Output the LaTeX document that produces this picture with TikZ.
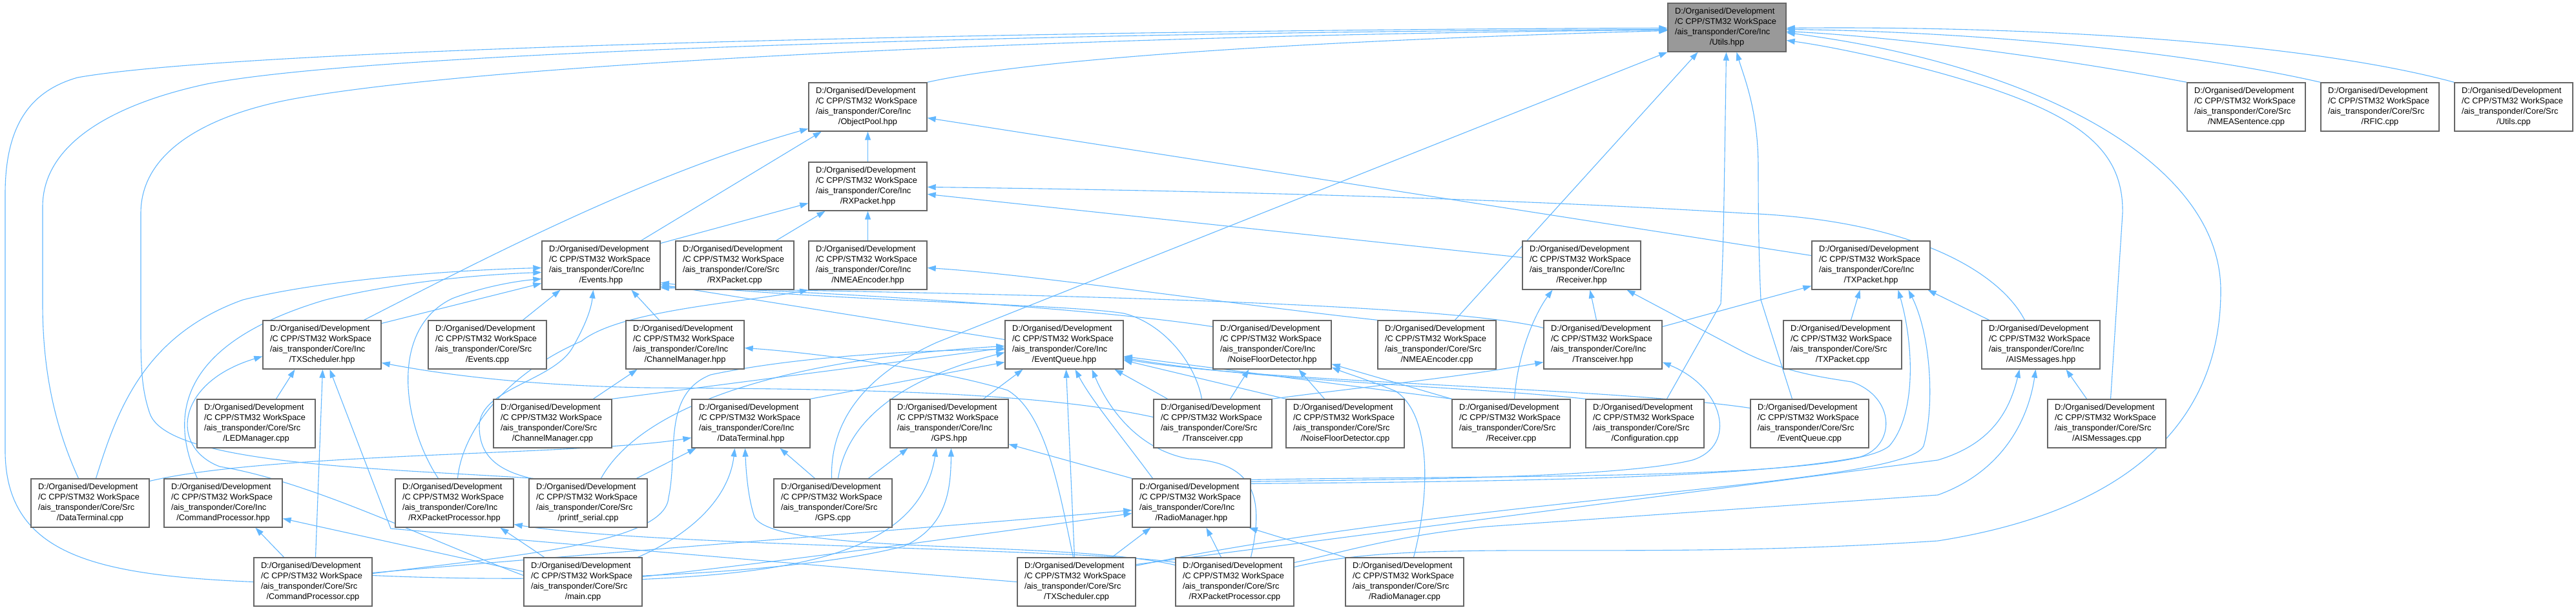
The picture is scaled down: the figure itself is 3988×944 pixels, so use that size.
\documentclass[tikz,border=0pt]{standalone}
\usepackage{fontspec}
\setmainfont{Liberation Sans}
\usetikzlibrary{arrows.meta}
\definecolor{edgec}{HTML}{63B8FF}
\definecolor{bordc}{HTML}{666666}
\definecolor{rootc}{HTML}{999999}
\newcommand\nlbl{\fontsize{12.8pt}{15.9pt}\selectfont}
\newcommand\ntx[2]{\makebox[161pt][l]{D:/Organised/Development}\\\makebox[161pt][l]{/C CPP/STM32 WorkSpace}\\\makebox[161pt][l]{/ais\_transponder/Core/#1}\\#2}
\pgfdeclarelayer{bg}
\pgfsetlayers{bg,main}
\tikzset{
  nd/.style={draw=bordc, fill=white, line width=1.4pt, minimum width=183pt, minimum height=75pt, inner sep=0pt, align=center, font=\nlbl},
  rootnd/.style={nd, fill=rootc},
  e/.style={draw=edgec, line width=1.1pt, -{Triangle[length=13pt,width=9pt]}}
}
\begin{document}
\begin{tikzpicture}[x=1pt,y=-1pt]
\useasboundingbox (0,0) rectangle (3988,944);
% row 0
\node[rootnd] (utilsh) at (2673.5,42.5) {\ntx{Inc}{/Utils.hpp}};
% row 1
\node[nd] (objpool) at (1343.5,165.5) {\ntx{Inc}{/ObjectPool.hpp}};
\node[nd] (nmeasent) at (3477.5,165.5) {\ntx{Src}{/NMEASentence.cpp}};
\node[nd] (rfic) at (3684.5,165.5) {\ntx{Src}{/RFIC.cpp}};
\node[nd] (utilscpp) at (3891.5,165.5) {\ntx{Src}{/Utils.cpp}};
% row 2
\node[nd] (rxpkth) at (1343.5,288.5) {\ntx{Inc}{/RXPacket.hpp}};
% row 3
\node[nd] (eventsh) at (930.5,410.5) {\ntx{Inc}{/Events.hpp}};
\node[nd] (rxpktcpp) at (1137.5,410.5) {\ntx{Src}{/RXPacket.cpp}};
\node[nd] (nmeaench) at (1343.5,410.5) {\ntx{Inc}{/NMEAEncoder.hpp}};
\node[nd] (receiverh) at (2448.5,410.5) {\ntx{Inc}{/Receiver.hpp}};
\node[nd] (txpkth) at (2896.5,410.5) {\ntx{Inc}{/TXPacket.hpp}};
% row 4
\node[nd] (txschedh) at (498.5,533.5) {\ntx{Inc}{/TXScheduler.hpp}};
\node[nd] (eventscpp) at (754.5,533.5) {\ntx{Src}{/Events.cpp}};
\node[nd] (chanmgrh) at (1060.5,533.5) {\ntx{Inc}{/ChannelManager.hpp}};
\node[nd] (evqh) at (1647.5,533.5) {\ntx{Inc}{/EventQueue.hpp}};
\node[nd] (nfdh) at (1969.5,533.5) {\ntx{Inc}{/NoiseFloorDetector.hpp}};
\node[nd] (nmeaenccpp) at (2224.5,533.5) {\ntx{Src}{/NMEAEncoder.cpp}};
\node[nd] (transch) at (2481.5,533.5) {\ntx{Inc}{/Transceiver.hpp}};
\node[nd] (txpktcpp) at (2852.5,533.5) {\ntx{Src}{/TXPacket.cpp}};
\node[nd] (aismsgh) at (3159.5,533.5) {\ntx{Inc}{/AISMessages.hpp}};
% row 5
\node[nd] (ledmgrcpp) at (396.5,655.5) {\ntx{Src}{/LEDManager.cpp}};
\node[nd] (chanmgrcpp) at (855.5,655.5) {\ntx{Src}{/ChannelManager.cpp}};
\node[nd] (dtermh) at (1162.5,655.5) {\ntx{Inc}{/DataTerminal.hpp}};
\node[nd] (gpsh) at (1469.5,655.5) {\ntx{Inc}{/GPS.hpp}};
\node[nd] (transcpp) at (1877.5,655.5) {\ntx{Src}{/Transceiver.cpp}};
\node[nd] (nfdcpp) at (2082.5,655.5) {\ntx{Src}{/NoiseFloorDetector.cpp}};
\node[nd] (receivercpp) at (2339.5,655.5) {\ntx{Src}{/Receiver.cpp}};
\node[nd] (configcpp) at (2546.5,655.5) {\ntx{Src}{/Configuration.cpp}};
\node[nd] (evqcpp) at (2801.5,655.5) {\ntx{Src}{/EventQueue.cpp}};
\node[nd] (aismsgcpp) at (3261.5,655.5) {\ntx{Src}{/AISMessages.cpp}};
% row 6
\node[nd] (dtermcpp) at (139.5,778.5) {\ntx{Src}{/DataTerminal.cpp}};
\node[nd] (cmdproch) at (345.5,778.5) {\ntx{Inc}{/CommandProcessor.hpp}};
\node[nd] (rxpph) at (703.5,778.5) {\ntx{Inc}{/RXPacketProcessor.hpp}};
\node[nd] (printfcpp) at (910.5,778.5) {\ntx{Src}{/printf\_serial.cpp}};
\node[nd] (gpscpp) at (1289.5,778.5) {\ntx{Src}{/GPS.cpp}};
\node[nd] (radiomgrh) at (1844.5,778.5) {\ntx{Inc}{/RadioManager.hpp}};
% row 7
\node[nd] (cmdproccpp) at (484.5,900.5) {\ntx{Src}{/CommandProcessor.cpp}};
\node[nd] (maincpp) at (902.5,900.5) {\ntx{Src}{/main.cpp}};
\node[nd] (txschedcpp) at (1666.5,900.5) {\ntx{Src}{/TXScheduler.cpp}};
\node[nd] (rxppcpp) at (1911.5,900.5) {\ntx{Src}{/RXPacketProcessor.cpp}};
\node[nd] (radiomgrcpp) at (2174.5,900.5) {\ntx{Src}{/RadioManager.cpp}};

\begin{pgfonlayer}{bg}
\fill[white] (0,0) rectangle (3988,944);
% ---- into Utils.hpp
\draw[e] (objpool.north east) .. controls (1600,90) and (2050,62) .. ([yshift=-5pt]utilsh.west);
\draw[e] (cmdproccpp.west) .. controls (150,890) and (10,860) .. (8,700) -- (8,300) .. controls (8,190) and (50,140) .. (120,120) .. controls (400,70) and (1800,45) .. ([yshift=-1pt]utilsh.west);
\draw[e] ([xshift=-18pt]dtermcpp.north) .. controls (80,650) and (66,560) .. (66,470) -- (66,320) .. controls (66,220) and (180,160) .. (320,130) .. controls (600,75) and (1800,48) .. ([yshift=-3pt]utilsh.west);
\draw[e] ([xshift=-85pt]printfcpp.north) .. controls (600,725) and (260,720) .. (232,640) .. controls (218,600) and (218,560) .. (218,500) -- (218,330) .. controls (218,230) and (330,175) .. (460,152) .. controls (800,92) and (1800,52) .. ([yshift=-4pt]utilsh.west);
\draw[e] ([xshift=-2pt]gpscpp.north) .. controls (1285,650) and (1340,580) .. (1450,530) -- (utilsh.south west);
\draw[e] ([xshift=28pt]nmeaenccpp.north) -- ([xshift=-45pt]utilsh.south);
\draw[e] ([xshift=34pt]configcpp.north) -- (2664,470) .. controls (2668,380) .. ([xshift=-1pt]utilsh.south);
\draw[e] ([xshift=-27pt]evqcpp.north) -- (2726,464) .. controls (2722,380) and (2722,300) .. (2722,260) .. controls (2722,170) and (2700,120) .. ([xshift=15pt]utilsh.south);
\draw[e] (nmeasent.north west) .. controls (3200,92) and (2950,58) .. ([yshift=-6pt]utilsh.east);
\draw[e] (rfic.north west) .. controls (3350,72) and (3000,48) .. ([yshift=-3pt]utilsh.east);
\draw[e] (utilscpp.north west) .. controls (3550,60) and (3100,40) .. ([yshift=-1pt]utilsh.east);
\draw[e] ([xshift=6pt]aismsgcpp.north) -- (3286,330) .. controls (3288,225) and (3210,170) .. (3000,112) .. controls (2900,85) and (2820,70) .. ([yshift=-20pt]utilsh.east);
\draw[e] ([yshift=23pt]rxppcpp.east) .. controls (2200,830) and (2500,870) .. (3000,837) .. controls (3300,790) and (3438,650) .. (3438,450) .. controls (3438,250) and (3150,100) .. ([yshift=-8pt]utilsh.east);
% ---- into ObjectPool.hpp
\draw[e] ([xshift=65pt]txschedh.north) .. controls (750,400) and (1000,270) .. (objpool.200);
\draw[e] ([xshift=62pt]eventsh.north) -- (objpool.208);
\draw[e] (rxpkth) -- (objpool);
\draw[e] ([yshift=15pt]txpkth.west) -- ([yshift=-17pt]objpool.east);
% ---- into RXPacket.hpp
\draw[e] ([yshift=34pt]eventsh.east) -- ([yshift=-26pt]rxpkth.west);
\draw[e] ([xshift=64pt]rxpktcpp.north) -- ([xshift=-66pt]rxpkth.south);
\draw[e] (nmeaench) -- (rxpkth);
\draw[e] ([xshift=-25pt]aismsgh.north) .. controls (3095,420) and (2960,340) .. (2700,330) .. controls (2300,305) and (1800,294) .. ([yshift=-1pt]rxpkth.east);
\draw[e] ([yshift=12pt]receiverh.west) -- ([yshift=-12pt]rxpkth.east);
% ---- into Events.hpp
\draw[e] ([xshift=9pt]dtermcpp.north) .. controls (180,640) and (220,520) .. (376,464) .. controls (500,433) and (700,418) .. ([yshift=-4pt]eventsh.west);
\draw[e] ([xshift=-40pt]cmdproch.north) .. controls (260,640) and (280,530) .. (504,464) .. controls (620,436) and (740,425) .. ([yshift=-11pt]eventsh.west);
\draw[e] ([xshift=-25pt]rxpph.north) .. controls (625,660) and (600,510) .. (700,462) .. controls (750,443) and (800,435) .. ([yshift=-21pt]eventsh.west);
\draw[e] ([yshift=33pt]txschedh.east) -- ([yshift=-28pt]eventsh.west);
\draw[e] ([xshift=55pt]eventscpp.north) -- ([xshift=-63pt]eventsh.south);
\draw[e] ([xshift=-88pt]printfcpp.north) .. controls (770,728) and (742,705) .. (742,660) .. controls (742,600) and (860,590) .. (888,535) .. controls (905,505) and (915,480) .. ([xshift=-12pt]eventsh.south);
\draw[e] ([xshift=-40pt]chanmgrh.north) -- ([xshift=47pt]eventsh.south);
\draw[e] ([yshift=8pt]evqh.west) -- ([yshift=-30pt]eventsh.east);
\draw[e] ([yshift=28pt]nfdh.west) .. controls (1700,478) and (1300,452) .. ([yshift=-33pt]eventsh.east);
\draw[e] ([yshift=26pt]transch.west) .. controls (2250,470) and (1600,455) .. ([yshift=-35pt]eventsh.east);
\draw[e] ([xshift=-17pt]transcpp.north) .. controls (1850,560) and (1800,500) .. (1740,485) .. controls (1650,470) and (1250,465) .. ([yshift=-27pt]eventsh.east);
% ---- into NMEAEncoder.hpp
\draw[e] (nmeaenccpp.north west) .. controls (1900,470) and (1600,425) .. ([yshift=-4pt]nmeaench.east);
\draw[e] ([xshift=5pt]rxpph.north) .. controls (715,670) and (780,580) .. (900,528) .. controls (960,480) and (1150,468) .. (nmeaench.south west);
% ---- into ChannelManager.hpp
\draw[e] ([xshift=63pt]chanmgrcpp.north) -- ([xshift=-74pt]chanmgrh.south);
\draw[e] ([xshift=-5pt]txschedcpp.north) .. controls (1640,760) and (1620,640) .. (1560,604) .. controls (1450,570) and (1250,545) .. ([yshift=-5pt]chanmgrh.east);
% ---- into EventQueue.hpp
\draw[e] (dtermh.north east) -- ([yshift=-27pt]evqh.west);
\draw[e] ([xshift=53pt]gpsh.north) -- ([xshift=-64pt]evqh.south);
\draw[e] ([xshift=-3pt]txschedcpp.north) -- ([xshift=3pt]evqh.south);
\draw[e] ([xshift=-60pt]radiomgrh.north) .. controls (1740,680) and (1690,620) .. ([xshift=17pt]evqh.south);
\draw[e] ([xshift=25pt]rxppcpp.north) .. controls (1960,760) and (1935,715) .. (1840,710) .. controls (1760,695) and (1715,630) .. ([xshift=43pt]evqh.south);
\draw[e] ([xshift=-70pt]transcpp.north) -- ([xshift=78pt]evqh.south);
\draw[e] (chanmgrcpp.north east) -- ([yshift=-5pt]evqh.west);
\draw[e] ([xshift=8pt]gpscpp.north) .. controls (1310,660) and (1380,590) .. ([yshift=-12pt]evqh.west);
\draw[e] ([yshift=13pt]cmdproccpp.east) .. controls (800,860) and (1030,840) .. (1035,770) .. controls (1050,700) and (1025,610) .. (1100,580) .. controls (1250,548) and (1450,542) .. ([yshift=-7pt]evqh.west);
\draw[e] ([xshift=20pt]printfcpp.north) .. controls (980,650) and (1150,560) .. ([yshift=-2pt]evqh.west);
\draw[e] (nfdcpp.north west) -- ([yshift=-24pt]evqh.east);
\draw[e] (receivercpp.north west) -- ([yshift=-18pt]evqh.east);
\draw[e] (configcpp.north west) .. controls (2300,600) and (1950,590) .. ([yshift=-20pt]evqh.east);
\draw[e] ([yshift=24pt]evqcpp.west) .. controls (2500,600) and (1950,592) .. ([yshift=-22pt]evqh.east);
% ---- into NoiseFloorDetector.hpp
\draw[e] ([xshift=27pt]transcpp.north) -- ([xshift=-36pt]nfdh.south);
\draw[e] ([xshift=-32pt]nfdcpp.north) -- ([xshift=41pt]nfdh.south);
\draw[e] (receivercpp.north west) -- ([yshift=-30pt]nfdh.east);
\draw[e] ([xshift=14pt]radiomgrcpp.north) .. controls (2215,760) and (2215,640) .. (2160,605) .. controls (2110,585) and (2085,578) .. ([yshift=-35pt]nfdh.east);
% ---- into Transceiver.hpp
\draw[e] (transcpp.north east) .. controls (2100,600) and (2250,585) .. ([yshift=-27pt]transch.west);
\draw[e] ([yshift=33pt]radiomgrh.east) .. controls (2100,742) and (2500,742) .. (2620,712) .. controls (2690,690) and (2670,600) .. ([yshift=-27pt]transch.east);
% ---- into Receiver.hpp
\draw[e] ([xshift=-10pt]transch.north) -- ([xshift=13pt]receiverh.south);
\draw[e] ([xshift=5pt]receivercpp.north) .. controls (2350,540) and (2380,480) .. ([xshift=-45pt]receiverh.south);
\draw[e] ([yshift=30pt]radiomgrh.east) .. controls (2300,745) and (2700,742) .. (2880,707) .. controls (2935,690) and (2935,615) .. (2867,591) .. controls (2820,584) and (2760,575) .. (2700,545) -- ([xshift=70pt]receiverh.south);
% ---- into TXPacket.hpp
\draw[e] ([yshift=28pt]transch.east) -- ([yshift=-32pt]txpkth.west);
\draw[e] ([xshift=13pt]txpktcpp.north) -- ([xshift=-17pt]txpkth.south);
\draw[e] ([yshift=36pt]radiomgrh.east) .. controls (2300,735) and (2860,745) .. (2925,690) .. controls (2968,640) and (2962,530) .. ([xshift=42pt]txpkth.south);
\draw[e] ([yshift=25pt]txschedcpp.east) .. controls (2300,765) and (2950,752) .. (2978,690) .. controls (2995,630) and (2990,520) .. ([xshift=58pt]txpkth.south);
\draw[e] ([xshift=-80pt]aismsgh.north) -- ([xshift=88pt]txpkth.south);
% ---- into AISMessages.hpp
\draw[e] ([xshift=-31pt]aismsgcpp.north) -- ([xshift=39pt]aismsgh.south);
\draw[e] ([yshift=27pt]txschedcpp.east) -- (3000,712) .. controls (3080,688) and (3110,640) .. ([xshift=-33pt]aismsgh.south);
\draw[e] ([yshift=30pt]rxppcpp.east) .. controls (2060,860) and (2150,830) .. (2300,815) -- (3000,766) .. controls (3100,730) and (3140,650) .. ([xshift=-8pt]aismsgh.south);
% ---- into RadioManager.hpp
\draw[e] ([xshift=55pt]txschedcpp.north) -- ([xshift=-63pt]radiomgrh.south);
\draw[e] ([xshift=-21pt]rxppcpp.north) -- ([xshift=23pt]radiomgrh.south);
\draw[e] (radiomgrcpp.north west) -- ([xshift=-3pt]radiomgrh.south east);
\draw[e] ([yshift=14pt]cmdproccpp.east) .. controls (900,858) and (1400,820) .. ([yshift=-11pt]radiomgrh.west);
\draw[e] ([yshift=8pt]maincpp.east) .. controls (1200,870) and (1500,830) .. ([yshift=-16pt]radiomgrh.west);
% ---- into GPS.hpp
\draw[e] (radiomgrh.north west) -- ([yshift=-32pt]gpsh.east);
\draw[e] ([xshift=55pt]gpscpp.north) -- ([xshift=-64pt]gpsh.south);
\draw[e] ([yshift=4pt]maincpp.east) .. controls (1250,885) and (1425,850) .. ([xshift=-20pt]gpsh.south);
\draw[e] ([yshift=10pt]cmdproccpp.east) .. controls (900,905) and (1250,885) .. (1400,845) .. controls (1465,815) and (1472,760) .. ([xshift=3pt]gpsh.south);
% ---- into DataTerminal.hpp
\draw[e] ([xshift=-28pt]gpscpp.north) -- ([xshift=45pt]dtermh.south);
\draw[e] ([yshift=34pt]dtermcpp.east) .. controls (420,700) and (900,705) .. ([yshift=-22pt]dtermh.west);
\draw[e] ([xshift=75pt]printfcpp.north) -- ([xshift=-85pt]dtermh.south);
\draw[e] ([xshift=85pt]maincpp.north) .. controls (1085,820) and (1130,760) .. ([xshift=-25pt]dtermh.south);
\draw[e] ([yshift=26pt]rxppcpp.west) .. controls (1650,835) and (1200,860) .. (1168,800) .. controls (1158,770) and (1155,730) .. ([xshift=-9pt]dtermh.south);
% ---- into CommandProcessor.hpp
\draw[e] ([xshift=-45pt]cmdproccpp.north) -- ([xshift=50pt]cmdproch.south);
\draw[e] ([yshift=16pt]maincpp.west) -- ([yshift=-24pt]cmdproch.east);
% ---- into RXPacketProcessor.hpp
\draw[e] ([xshift=-60pt]maincpp.north) -- ([xshift=71pt]rxpph.south);
\draw[e] ([yshift=30pt]rxppcpp.west) .. controls (1700,850) and (1000,845) .. ([yshift=-33pt]rxpph.east);
% ---- into TXScheduler.hpp
\draw[e] ([xshift=31pt]ledmgrcpp.north) -- ([xshift=-42pt]txschedh.south);
\draw[e] ([xshift=4pt]cmdproccpp.north) -- ([xshift=1pt]txschedh.south);
\draw[e] ([yshift=10pt]maincpp.west) .. controls (650,830) and (480,745) .. (340,722) .. controls (262,692) and (272,592) .. ([yshift=-18pt]txschedh.west);
\draw[e] (txschedcpp.west) .. controls (1200,870) and (800,835) .. (605,818) -- ([xshift=12pt]txschedh.south);
\draw[e] ([yshift=10pt]transcpp.west) .. controls (1600,605) and (1300,602) .. (1000,600) .. controls (800,596) and (680,578) .. ([yshift=-28pt]txschedh.east);
\end{pgfonlayer}
\end{tikzpicture}
\end{document}
